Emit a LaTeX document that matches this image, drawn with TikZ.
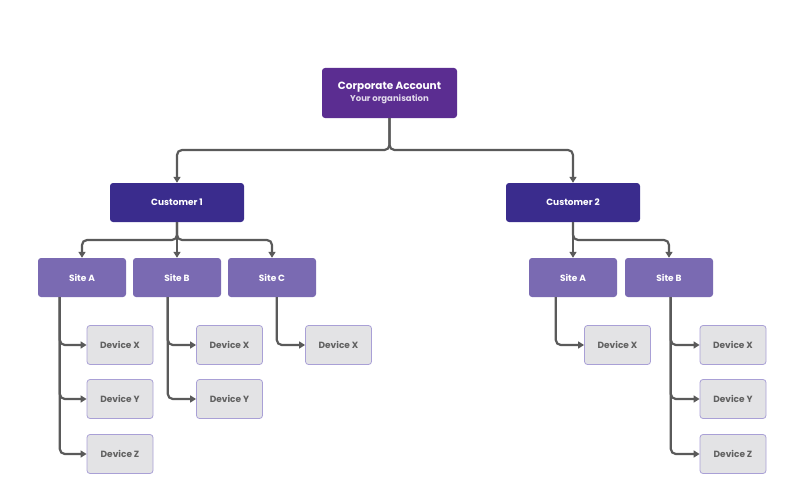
\documentclass[tikz,border=0pt]{standalone}
\usepackage{fontspec}
\setmainfont{Poppins}
\usetikzlibrary{arrows.meta, positioning}
\definecolor{corppurple}{HTML}{5B2D91}
\definecolor{custindigo}{HTML}{3A2C8D}
\definecolor{sitelilac}{HTML}{7A6AB2}
\definecolor{devgrey}{HTML}{E3E3E5}
\definecolor{devedge}{HTML}{A9A0D6}
\definecolor{linkgrey}{HTML}{5A5A5A}
\begin{document}
\begin{tikzpicture}[x=1pt, y=-1pt,
    box/.style = {rectangle, rounded corners=3pt, text=white, font=\bfseries\fontsize{9}{11}\selectfont},
    corp/.style = {box, fill=corppurple, minimum width=135pt, minimum height=50pt},
    cust/.style = {box, fill=custindigo, minimum width=134pt, minimum height=39pt},
    site/.style = {box, fill=sitelilac, minimum width=88pt, minimum height=39pt},
    dev/.style = {rectangle, rounded corners=3pt, fill=devgrey, draw=devedge, line width=0.8pt, text=black!62, font=\bfseries\fontsize{9}{11}\selectfont, minimum width=66pt, minimum height=39pt},
    link/.style = {draw=linkgrey, line width=2.2pt, rounded corners=5pt, -{Triangle[length=6pt, width=7pt]}}]
    \useasboundingbox (0,0) rectangle (801,495);
    \node[corp, align=center] (corp) at (389.5,93) {{\fontsize{10.5}{12}\selectfont Corporate Account}\\[1pt]{\fontsize{8.5}{10}\selectfont\color{white!82!corppurple}Your organisation}};
    \node[cust] (C1) at (177,202.5) {Customer 1};
    \node[cust] (C2) at (573,202.5) {Customer 2};
    % sites
    \foreach \s/\x/\l in {1A/82/A, 1B/177/B, 1C/272/C, 2A/573/A, 2B/669/B}
        \node[site] (S\s) at (\x,277.5) {Site \l};
    % devices
    \foreach \d/\x/\y/\l in {1AX/120/345/X, 1AY/120/399/Y, 1AZ/120/454/Z, 1BX/229.5/345/X, 1BY/229.5/399/Y,
                            1CX/338.5/345/X, 2AX/617.5/345/X, 2BX/733/345/X, 2BY/733/399/Y, 2BZ/733/454/Z}
        \node[dev] (D\d) at (\x,\y) {Device \l};
    \draw[link] (corp.south) |- (177,150) -- (C1.north);
    \draw[link] (corp.south) |- (573,150) -- (C2.north);
    \foreach \s in {1A, 1B, 1C}
        \draw[link] (C1.south) |- (S\s.north |- 0,240) -- (S\s.north);
    \foreach \s in {2A, 2B}
        \draw[link] (C2.south) |- (S\s.north |- 0,240) -- (S\s.north);
    % site to device links
    \foreach \s/\d/\dx in {1A/1AX/22, 1A/1AY/22, 1A/1AZ/22, 1B/1BX/35, 1B/1BY/35, 1C/1CX/49,
                           2A/2AX/27, 2B/2BX/46, 2B/2BY/46, 2B/2BZ/46}
        \draw[link] ([xshift=\dx pt]S\s.south west) |- (D\d.west);
\end{tikzpicture}
\end{document}
